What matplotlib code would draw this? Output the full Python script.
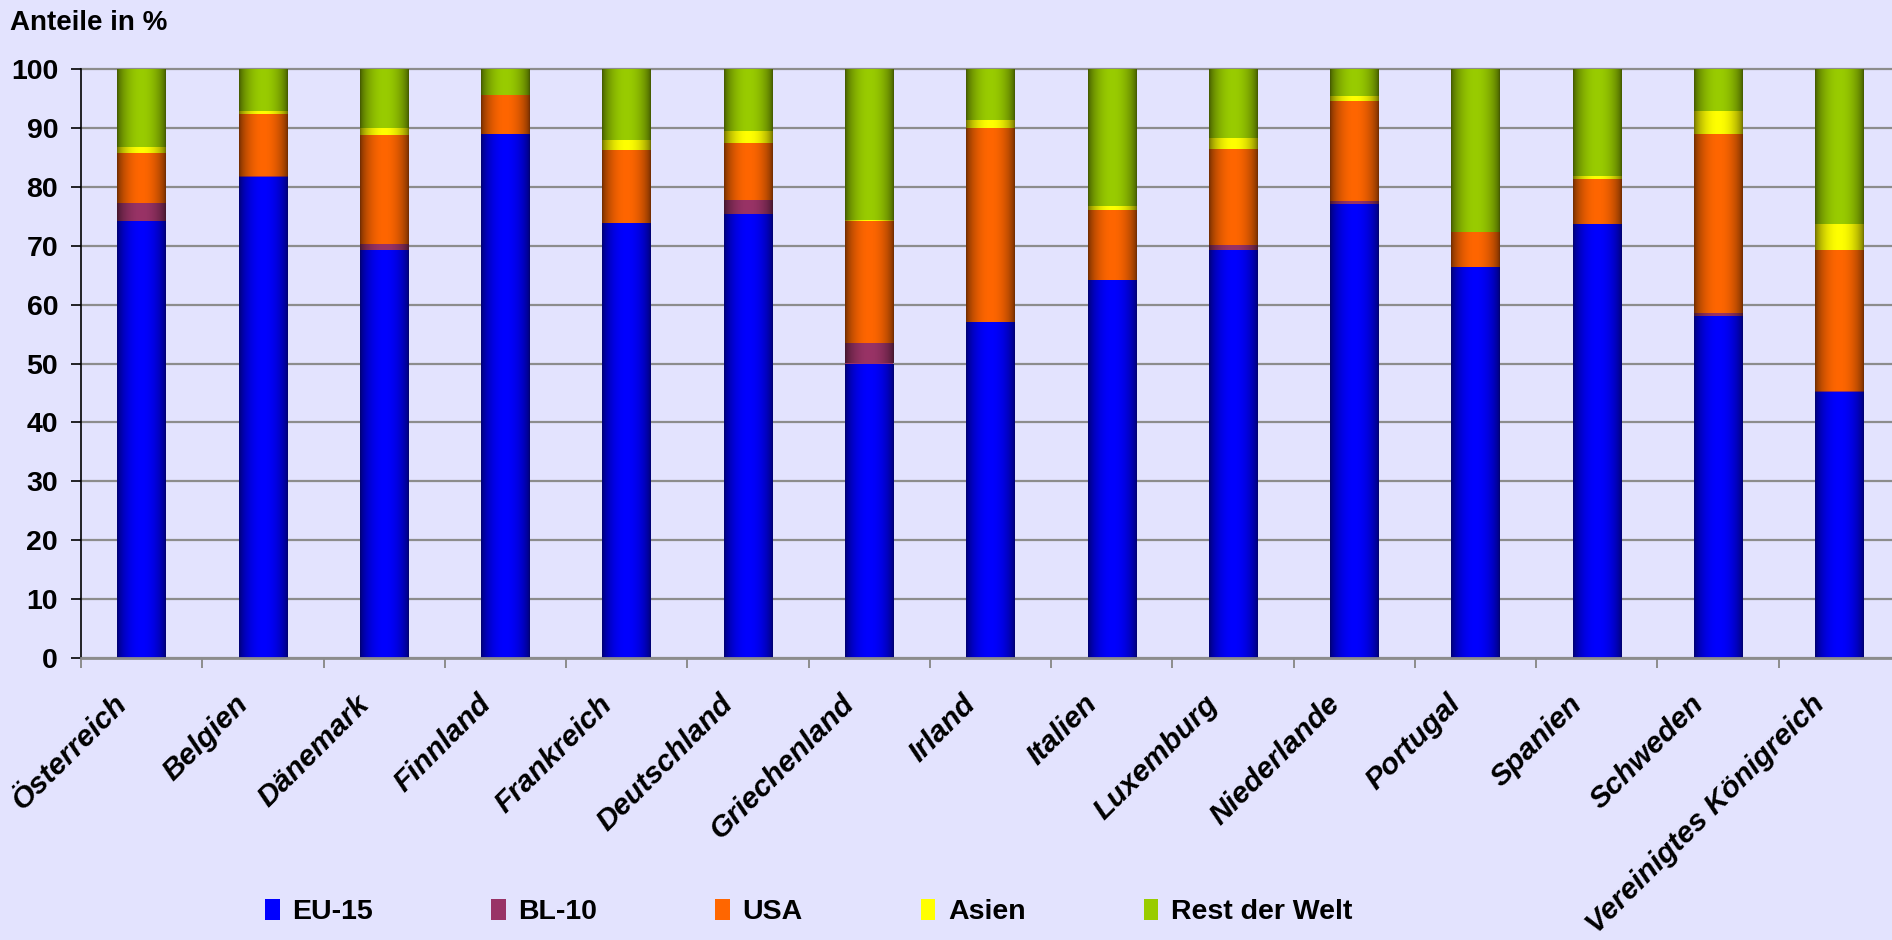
import numpy as np
import matplotlib
matplotlib.use("Agg")
import matplotlib.pyplot as plt
from matplotlib.patches import Patch
from matplotlib.colors import to_rgb
import matplotlib.transforms as mtransforms

plt.rcParams['font.family'] = ['Liberation Sans', 'DejaVu Sans']

countries = ["Österreich", "Belgien", "Dänemark", "Finnland", "Frankreich",
             "Deutschland", "Griechenland", "Irland", "Italien", "Luxemburg",
             "Niederlande", "Portugal", "Spanien", "Schweden",
             "Vereinigtes Königreich"]
eu15 = [74.2, 81.7, 69.3, 88.9, 73.9, 75.4, 50.0, 57.1, 64.1, 69.3, 77.0, 66.3, 73.7, 58.1, 45.1]
bl10 = [3.1, 0.2, 1.0, 0.0, 0.0, 2.4, 3.5, 0.0, 0.0, 0.9, 0.6, 0.0, 0.0, 0.4, 0.2]
usa = [8.5, 10.5, 18.5, 6.7, 12.4, 9.7, 20.7, 32.9, 11.9, 16.3, 17.0, 6.1, 7.7, 30.4, 23.9]
asien = [1.0, 0.5, 1.2, 0.0, 1.7, 2.0, 0.2, 1.4, 0.8, 1.8, 0.9, 0.0, 0.5, 4.0, 4.5]
rest = [13.2, 7.1, 10.0, 4.4, 12.0, 10.5, 25.6, 8.6, 23.2, 11.7, 4.5, 27.6, 18.1, 7.1, 26.3]

series_names = ["EU-15", "BL-10", "USA", "Asien", "Rest der Welt"]
series_values = [eu15, bl10, usa, asien, rest]
series_colors = ["#0000FF", "#993366", "#FF6600", "#FFFF00", "#99CC00"]

BG = "#E3E3FE"
GRID = "#8C8C8C"

fig = plt.figure(figsize=(18.92, 9.40), dpi=100, facecolor=BG)
ax = fig.add_axes([81 / 1892, 1 - 658 / 940, 1819 / 1892, (658 - 69) / 940])
ax.set_facecolor(BG)

x = np.arange(len(countries))
width = 0.40
bottom = np.zeros(len(countries))

tt = np.linspace(0, 1, 200)
prof = 0.40 + 0.60 * np.sin(np.pi * tt) ** 0.6

containers = []
for name, vals, col in zip(series_names, series_values, series_colors):
    vals = np.array(vals, dtype=float)
    bc = ax.bar(x, vals, width, bottom=bottom, color=col, label=name,
                linewidth=0, zorder=2)
    containers.append((bc, col))
    bottom += vals

for bc, col in containers:
    rgb = np.array(to_rgb(col))
    grad = (prof[:, None] * rgb[None, :])[None, :, :]
    for p in bc.patches:
        h = p.get_height()
        if h <= 0:
            continue
        x0, y0 = p.get_xy()
        w = p.get_width()
        im = ax.imshow(grad, extent=[x0, x0 + w, y0, y0 + h], aspect='auto',
                       interpolation='bilinear', zorder=2.1)
        im.set_clip_path(p)

ax.set_xlim(-0.5, len(countries) - 0.5)
ax.set_ylim(0, 100)
ax.set_aspect('auto')

ax.set_yticks(np.arange(0, 101, 10))
ax.yaxis.grid(True, color=GRID, linewidth=1.6)
for gl in ax.get_ygridlines():
    gl.set_clip_on(False)
ax.set_axisbelow(True)
for s in ['top', 'right']:
    ax.spines[s].set_visible(False)
ax.spines['left'].set_color('black')
ax.spines['left'].set_linewidth(1.2)
ax.spines['bottom'].set_color(GRID)
ax.spines['bottom'].set_linewidth(2.0)

ax.tick_params(axis='y', direction='out', length=7.5, width=1.2, color='black',
               pad=9, labelsize=20.5)
for lab in ax.get_yticklabels():
    lab.set_fontweight('bold')

ax.set_xticks(x)
ax.set_xticks(np.arange(-0.5, len(countries), 1.0), minor=True)
ax.tick_params(axis='x', which='major', length=0, pad=23)
ax.tick_params(axis='x', which='minor', length=7, width=1.4, color=GRID,
               direction='out')
ax.set_xticklabels(countries, rotation=45, ha='right', va='top',
                   fontsize=21.5, fontweight='bold', fontstyle='italic')
offset = mtransforms.ScaledTranslation(-9 / 100, 0, fig.dpi_scale_trans)
for lab in ax.get_xticklabels():
    lab.set_transform(lab.get_transform() + offset)

fig.text(10 / 1892, 1 - 10 / 940, "Anteile in %", fontsize=20, fontweight='bold',
         ha='left', va='top')

handles = [Patch(facecolor=c, edgecolor='none', label=n)
           for n, c in zip(series_names, series_colors)]
leg = fig.legend(handles=handles, loc='center', bbox_to_anchor=(0.4275, 1 - 912 / 940),
                 ncol=5, frameon=False, handlelength=0.5, handleheight=0.8,
                 handletextpad=0.45, columnspacing=4.15,
                 prop={'weight': 'bold', 'size': 20.5})

fig.savefig("out.png", dpi=100, facecolor=BG)
